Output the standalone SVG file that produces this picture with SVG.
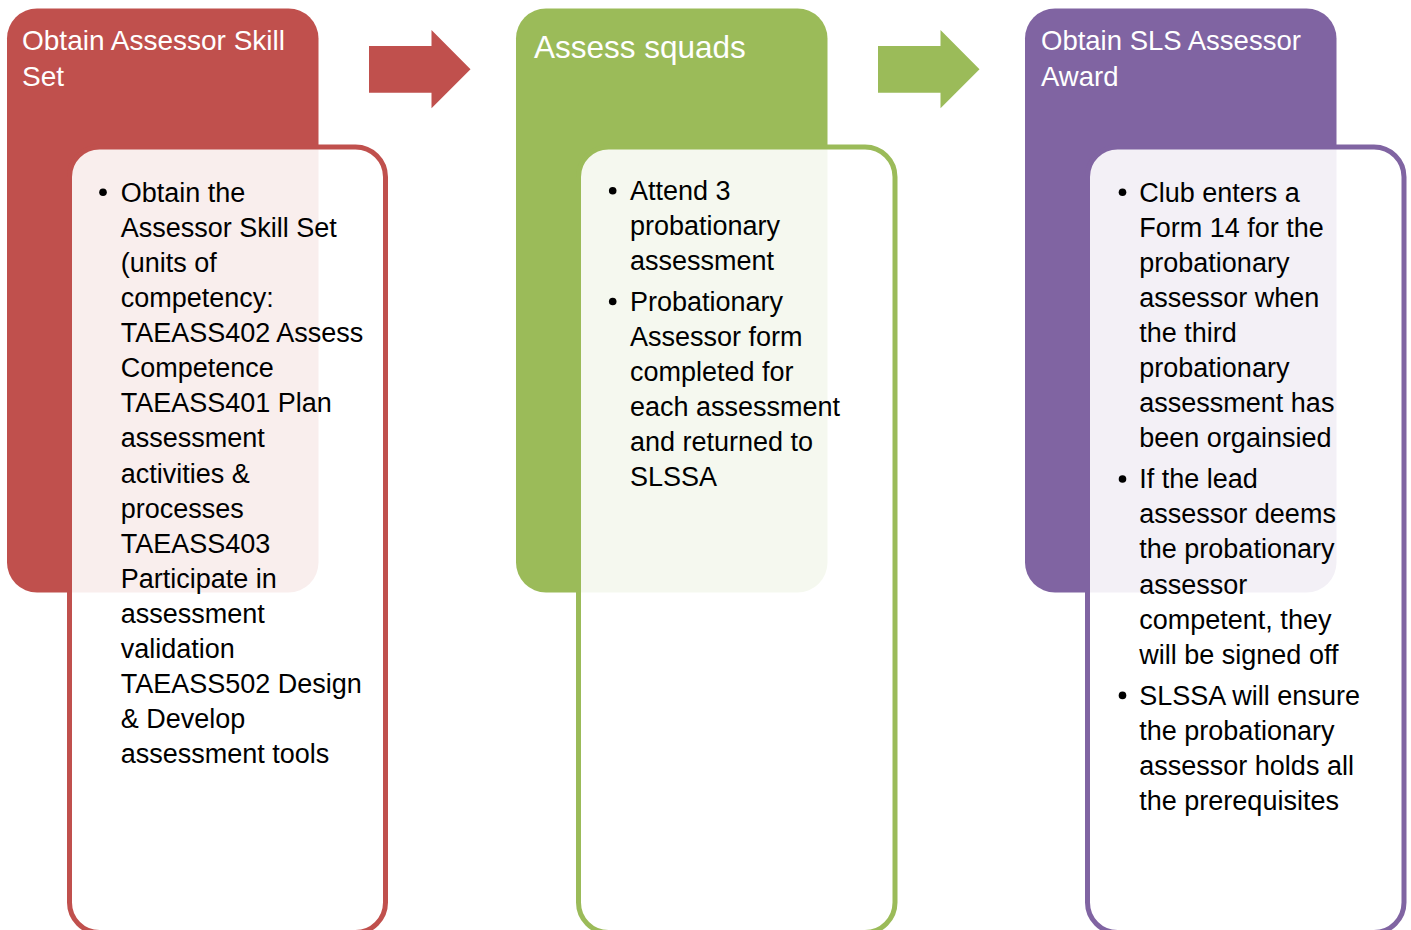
<svg xmlns="http://www.w3.org/2000/svg" width="1411" height="930" viewBox="0 0 1411 930">
  <style>
    .hdr-text { font-family: "Liberation Sans", Arial, sans-serif; fill: #ffffff; }
    .body-text { font-family: "Liberation Sans", Arial, sans-serif; font-size: 27px; fill: #000000; }
    .card { fill: #ffffff; fill-opacity: 0.9; stroke-width: 5; }
    .red { fill: #C0504D; }
    .green { fill: #9BBB59; }
    .purple { fill: #8064A2; }
  </style>
  <rect width="1411" height="930" fill="#ffffff"/>

  <g id="connectors">
    <path id="arrow-1" class="red" d="M369,46 H431.5 V30 L470.5,69.3 L431.5,108.3 V92.7 H369 Z"/>
    <path id="arrow-2" class="green" d="M878,46 H940.5 V30 L979.5,69.3 L940.5,108.3 V92.7 H878 Z"/>
  </g>

  <g id="node-obtain-skill-set">
    <rect class="red" x="7" y="8.5" width="311.5" height="584" rx="30"/>
    <text class="hdr-text" font-size="28"><tspan x="22" y="50">Obtain Assessor Skill</tspan><tspan x="22" y="86">Set</tspan></text>
  </g>
  <g id="node-skill-set-details">
    <rect class="card" x="69.5" y="147" width="316" height="785.5" rx="30" stroke="#C0504D"/>
    <circle cx="103" cy="192.3" r="3.8" fill="#000"/>
    <text class="body-text">
      <tspan x="120.7" y="201.7">Obtain the</tspan>
      <tspan x="120.7" y="236.8">Assessor Skill Set</tspan>
      <tspan x="120.7" y="271.9">(units of</tspan>
      <tspan x="120.7" y="307">competency:</tspan>
      <tspan x="120.7" y="342.1">TAEASS402 Assess</tspan>
      <tspan x="120.7" y="377.2">Competence</tspan>
      <tspan x="120.7" y="412.3">TAEASS401 Plan</tspan>
      <tspan x="120.7" y="447.4">assessment</tspan>
      <tspan x="120.7" y="482.5">activities &amp;</tspan>
      <tspan x="120.7" y="517.6">processes</tspan>
      <tspan x="120.7" y="552.7">TAEASS403</tspan>
      <tspan x="120.7" y="587.8">Participate in</tspan>
      <tspan x="120.7" y="622.9">assessment</tspan>
      <tspan x="120.7" y="658">validation</tspan>
      <tspan x="120.7" y="693.1">TAEASS502 Design</tspan>
      <tspan x="120.7" y="728.2">&amp; Develop</tspan>
      <tspan x="120.7" y="763.3">assessment tools</tspan>
    </text>
  </g>

  <g id="node-assess-squads">
    <rect class="green" x="516" y="8.5" width="311.5" height="584" rx="30"/>
    <text class="hdr-text" font-size="31.5" x="534" y="58">Assess squads</text>
  </g>
  <g id="node-assess-squads-details">
    <rect class="card" x="578.5" y="147" width="316.5" height="785.5" rx="30" stroke="#9BBB59"/>
    <circle cx="612.7" cy="190.7" r="3.8" fill="#000"/>
    <circle cx="612.7" cy="301.5" r="3.8" fill="#000"/>
    <text class="body-text">
      <tspan x="630" y="199.5">Attend 3</tspan>
      <tspan x="630" y="234.6">probationary</tspan>
      <tspan x="630" y="269.7">assessment</tspan>
      <tspan x="630" y="310.5">Probationary</tspan>
      <tspan x="630" y="345.6">Assessor form</tspan>
      <tspan x="630" y="380.7">completed for</tspan>
      <tspan x="630" y="415.8">each assessment</tspan>
      <tspan x="630" y="450.9">and returned to</tspan>
      <tspan x="630" y="486">SLSSA</tspan>
    </text>
  </g>

  <g id="node-obtain-award">
    <rect class="purple" x="1025" y="8.5" width="311.5" height="584" rx="30"/>
    <text class="hdr-text" font-size="27.5"><tspan x="1041" y="50">Obtain SLS Assessor</tspan><tspan x="1041" y="86">Award</tspan></text>
  </g>
  <g id="node-obtain-award-details">
    <rect class="card" x="1087.5" y="147" width="316.5" height="785.5" rx="30" stroke="#8064A2"/>
    <circle cx="1122.5" cy="192.2" r="3.8" fill="#000"/>
    <circle cx="1122.5" cy="479" r="3.8" fill="#000"/>
    <circle cx="1122.5" cy="695.4" r="3.8" fill="#000"/>
    <text class="body-text">
      <tspan x="1139.3" y="201.5">Club enters a</tspan>
      <tspan x="1139.3" y="236.6">Form 14 for the</tspan>
      <tspan x="1139.3" y="271.7">probationary</tspan>
      <tspan x="1139.3" y="306.8">assessor when</tspan>
      <tspan x="1139.3" y="341.9">the third</tspan>
      <tspan x="1139.3" y="377">probationary</tspan>
      <tspan x="1139.3" y="412.1">assessment has</tspan>
      <tspan x="1139.3" y="447.2">been orgainsied</tspan>
      <tspan x="1139.3" y="488.2">If the lead</tspan>
      <tspan x="1139.3" y="523.3">assessor deems</tspan>
      <tspan x="1139.3" y="558.4">the probationary</tspan>
      <tspan x="1139.3" y="593.5">assessor</tspan>
      <tspan x="1139.3" y="628.6">competent, they</tspan>
      <tspan x="1139.3" y="663.7">will be signed off</tspan>
      <tspan x="1139.3" y="704.7">SLSSA will ensure</tspan>
      <tspan x="1139.3" y="739.8">the probationary</tspan>
      <tspan x="1139.3" y="774.9">assessor holds all</tspan>
      <tspan x="1139.3" y="810">the prerequisites</tspan>
    </text>
  </g>
</svg>
